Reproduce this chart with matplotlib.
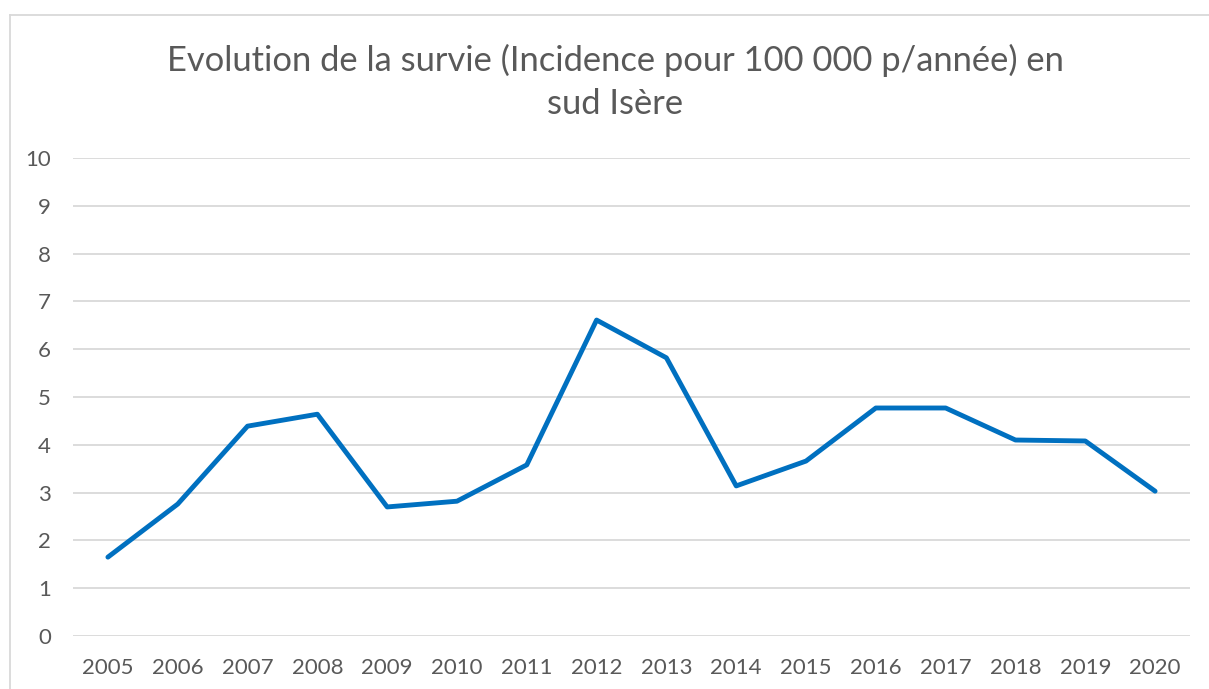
import matplotlib.pyplot as plt
from matplotlib.lines import Line2D

# données
annees = ['2005', '2006', '2007', '2008', '2009', '2010', '2011', '2012',
          '2013', '2014', '2015', '2016', '2017', '2018', '2019', '2020']
incidence = [1.65, 2.76, 4.39, 4.64, 2.70, 2.82, 3.58, 6.61,
             5.82, 3.14, 3.66, 4.77, 4.77, 4.10, 4.08, 3.03]
yticks = list(range(0, 11))

plt.rcParams['font.family'] = ['Lato', 'DejaVu Sans']
gris = '#595959'

fig = plt.figure(figsize=(12.09, 6.89), dpi=100)
ax = fig.add_axes([73 / 1209, 1 - 636 / 689, (1190 - 73) / 1209, (636 - 158) / 689])

x = list(range(len(annees)))
ax.plot(x, incidence, color='#0070C0', linewidth=3.5, solid_joinstyle='round', solid_capstyle='round')

ax.set_xlim(-0.5, len(annees) - 0.5)
ax.set_ylim(0, 10)
ax.set_yticks(yticks)
ax.set_xticks(x)
ax.set_xticklabels(annees)
ax.grid(axis='y', color='#D9D9D9', linewidth=1.3)
ax.set_axisbelow(True)
for s in ax.spines.values():
    s.set_visible(False)
ax.tick_params(length=0, labelsize=16, labelcolor=gris)
ax.tick_params(axis='y', pad=16)
ax.tick_params(axis='x', pad=16)

fig.text(615 / 1209, 1 - 82 / 689, 'Evolution de la survie (Incidence pour 100 000 p/année) en\nsud Isère',
         ha='center', va='center', fontsize=24.8, color=gris, linespacing=1.45)

# cadre du graphique
fig.add_artist(Line2D([10 / 1209, 10 / 1209], [0, 1 - 15 / 689], color='#D9D9D9', linewidth=1.3))
fig.add_artist(Line2D([10 / 1209, 1], [1 - 15 / 689, 1 - 15 / 689], color='#D9D9D9', linewidth=1.3))

plt.savefig('out.png', dpi=100)
